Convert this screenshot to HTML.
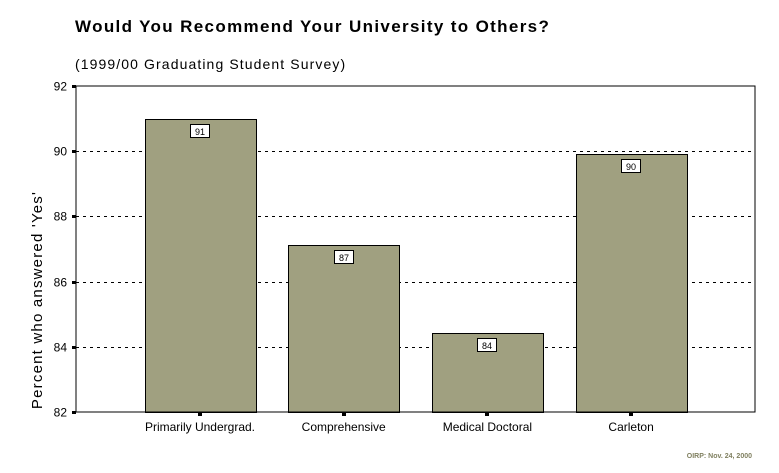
<!DOCTYPE html>
<html><head><meta charset="utf-8"><style>
body{margin:0;background:#fff;width:779px;height:468px;overflow:hidden;font-family:"Liberation Sans",Arial,sans-serif}
</style></head><body>
<svg id="c" width="779" height="468" xmlns="http://www.w3.org/2000/svg">
<text x="75" y="32" font-size="17" font-weight="bold" letter-spacing="1.35" fill="#000">Would You Recommend Your University to Others?</text>
<text x="75" y="69" font-size="14" fill="#000" letter-spacing="1.1">(1999/00 Graduating Student Survey)</text>
<text transform="translate(42,300) rotate(-90)" text-anchor="middle" font-size="15" fill="#000" letter-spacing="1.2">Percent who answered 'Yes'</text>
<g id="grid"></g>
<g id="bars"></g>
<rect x="76" y="86" width="679" height="326" fill="none" stroke="#000" stroke-width="1"/>
<g id="axes"></g>
<text x="752" y="458" text-anchor="end" font-size="7" font-weight="bold" fill="#808060">OIRP: Nov. 24, 2000</text>
</svg>
<script>
const categories=["Primarily Undergrad.","Comprehensive","Medical Doctoral","Carleton"];
const values=[91.0,87.12,84.42,89.9];
const valueLabels=["91","87","84","90"];
const yTicks=[82,84,86,88,90,92];
const NS="http://www.w3.org/2000/svg";
const yMin=82,yMax=92,plotTop=86,plotBot=412;
const yS=v=>plotBot-(v-yMin)/(yMax-yMin)*(plotBot-plotTop);
const xS=i=>200+i*143.7;
function mk(t,a,p){const e=document.createElementNS(NS,t);for(const k in a)e.setAttribute(k,a[k]);p.appendChild(e);return e;}
const grid=document.getElementById('grid'),bars=document.getElementById('bars'),axes=document.getElementById('axes');
yTicks.forEach(t=>{
 const yy=Math.round(yS(t))+0.5;
 if(t>yMin&&t<yMax){const l=mk('line',{x1:76,x2:755,y1:yy,y2:yy,stroke:'#000','stroke-dasharray':'3,4'},grid);
 
 }
 const tk=mk('rect',{x:72,y:yy-1.5,width:4,height:3,fill:'#000'},axes);
 
 
 const tx=mk('text',{x:67,y:yy+4,'text-anchor':'end','font-size':12,fill:'#000'},axes);
 tx.textContent=t;
 
 
});
categories.forEach((c,i)=>{
 const cx=xS(i),bw=111,yy=yS(values[i]);
 const r=mk('rect',{x:Math.round(cx-bw/2)+0.5,y:Math.round(yy)+0.5,width:bw,height:plotBot-Math.round(yy),fill:'#a0a080',stroke:'#000'},bars);
 
 
 const b=mk('rect',{x:Math.round(cx)-9.5,y:Math.round(yy)+5.5,width:19,height:13,fill:'#fff',stroke:'#000'},bars);
 
 
 const vt=mk('text',{x:Math.round(cx),y:Math.round(yy)+16,'text-anchor':'middle','font-size':9,fill:'#000'},bars);
 vt.textContent=valueLabels[i];
 
 
 const tk=mk('rect',{x:Math.round(cx)-2,y:413,width:4,height:3,fill:'#000'},axes);
 
 
 const lt=mk('text',{x:cx,y:431,'text-anchor':'middle','font-size':12,fill:'#000'},axes);
 lt.textContent=c;
 
 
});
</script>
</body></html>
